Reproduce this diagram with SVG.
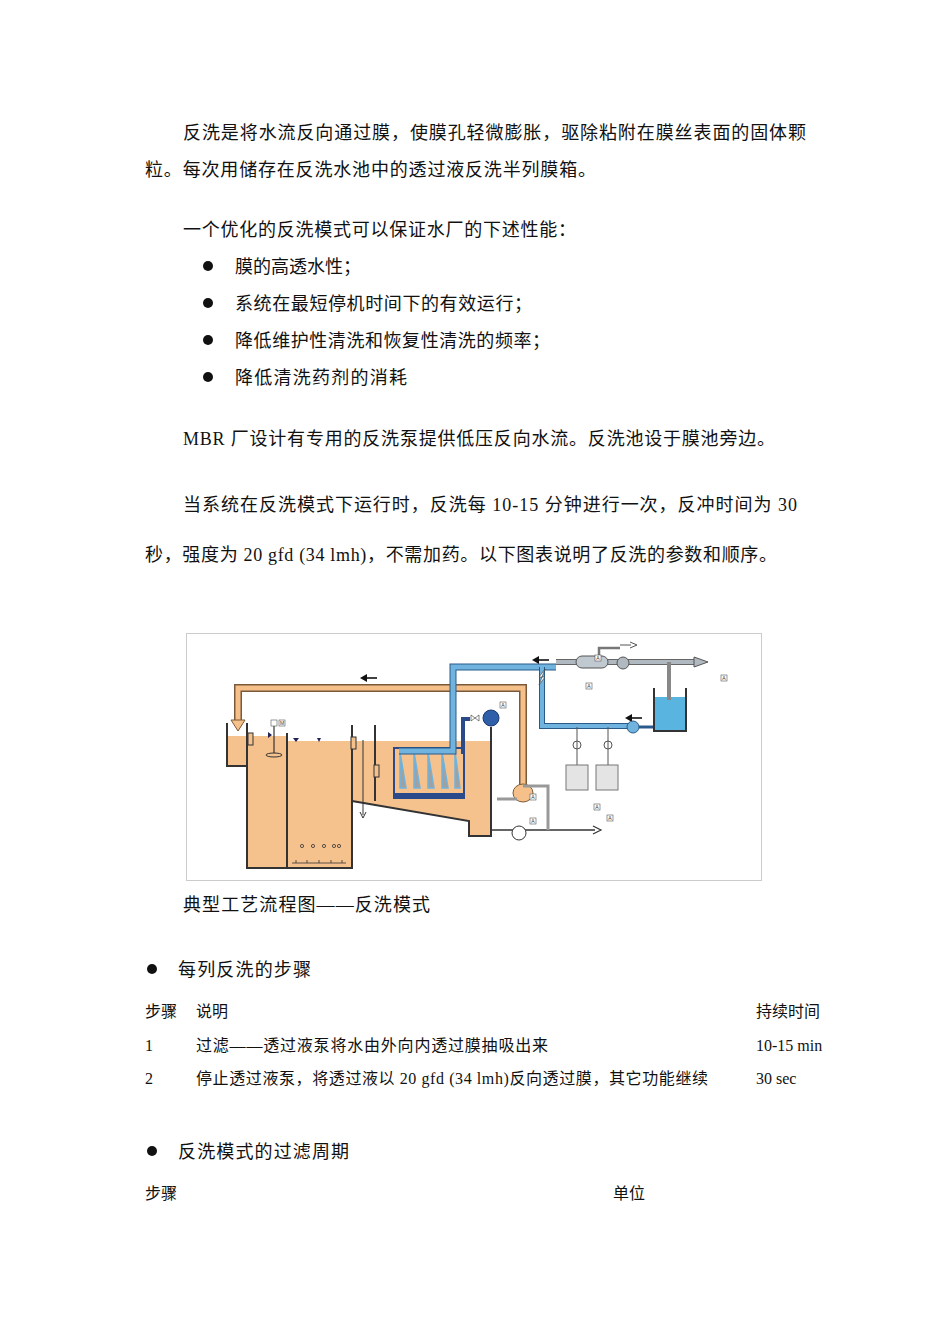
<svg xmlns="http://www.w3.org/2000/svg" width="950" height="1344" viewBox="0 0 950 1344">
<style>
.t{font-family:"Liberation Serif","Noto Sans CJK SC",serif;font-size:18px;fill:#111}
.s{font-family:"Liberation Serif","Noto Sans CJK SC",serif;font-size:16px;fill:#111}
.o{fill:none;stroke:#333;stroke-width:2}
.lbl{font-family:"Liberation Sans",sans-serif;font-size:5px;fill:#333;text-anchor:middle}
.bx{fill:#fff;stroke:#555;stroke-width:0.6}
.ar{fill:#111}
</style>
<rect width="950" height="1344" fill="#fff"/>
<g id="text">
<text class="t" x="183" y="139" textLength="623" lengthAdjust="spacing">反洗是将水流反向通过膜，使膜孔轻微膨胀，驱除粘附在膜丝表面的固体颗</text>
<text class="t" x="145" y="176" textLength="451" lengthAdjust="spacing">粒。每次用储存在反洗水池中的透过液反洗半列膜箱。</text>
<text class="t" x="183" y="236" textLength="393" lengthAdjust="spacing">一个优化的反洗模式可以保证水厂的下述性能：</text>
<circle cx="208" cy="266" r="5" fill="#111"/><text class="t" x="235" y="273">膜的高透水性；</text>
<circle cx="208" cy="303" r="5" fill="#111"/><text class="t" x="235" y="310" textLength="297" lengthAdjust="spacing">系统在最短停机时间下的有效运行；</text>
<circle cx="208" cy="340" r="5" fill="#111"/><text class="t" x="235" y="347" textLength="315" lengthAdjust="spacing">降低维护性清洗和恢复性清洗的频率；</text>
<circle cx="208" cy="377" r="5" fill="#111"/><text class="t" x="235" y="384" textLength="172" lengthAdjust="spacing">降低清洗药剂的消耗</text>
<text class="t" x="183" y="445" textLength="592" lengthAdjust="spacing">MBR 厂设计有专用的反洗泵提供低压反向水流。反洗池设于膜池旁边。</text>
<text class="t" x="183" y="511" textLength="614" lengthAdjust="spacing">当系统在反洗模式下运行时，反洗每 10-15 分钟进行一次，反冲时间为 30</text>
<text class="t" x="145" y="561" textLength="632" lengthAdjust="spacing">秒，强度为 20 gfd (34 lmh)，不需加药。以下图表说明了反洗的参数和顺序。</text>
<text class="t" x="183" y="911" textLength="247" lengthAdjust="spacing">典型工艺流程图——反洗模式</text>
<circle cx="152" cy="969" r="5" fill="#111"/><text class="t" x="178" y="976" textLength="133" lengthAdjust="spacing">每列反洗的步骤</text>
<text class="s" x="145" y="1017">步骤</text><text class="s" x="196" y="1017">说明</text><text class="s" x="756" y="1017">持续时间</text>
<text class="s" x="145" y="1051">1</text><text class="s" x="196" y="1051" textLength="352" lengthAdjust="spacing">过滤——透过液泵将水由外向内透过膜抽吸出来</text><text class="s" x="756" y="1051">10-15 min</text>
<text class="s" x="145" y="1084">2</text><text class="s" x="196" y="1084" textLength="512" lengthAdjust="spacing">停止透过液泵，将透过液以 20 gfd (34 lmh)反向透过膜，其它功能继续</text><text class="s" x="756" y="1084">30 sec</text>
<circle cx="152" cy="1151" r="5" fill="#111"/><text class="t" x="178" y="1158" textLength="171" lengthAdjust="spacing">反洗模式的过滤周期</text>
<text class="s" x="145" y="1199">步骤</text><text class="s" x="613" y="1199">单位</text>
</g>
<g id="figure">
<rect x="186.5" y="633.5" width="575" height="247" fill="#fff" stroke="#ccc"/>
<path d="M227,736 H287 V741 H491 V836 H469 V821 L352,801 V868 H247 V766 H227 Z" fill="#f5c28e"/>
<path class="o" d="M227,723 V766 H247 M247,723 V868 H352 V725 M287,733 V868 M352,801 L469,821 V836 H491 V727 M375,725 V801"/>
<path d="M523,786 V688 H238 V722" fill="none" stroke="#7a5a3a" stroke-width="8"/>
<path d="M523,786 V688 H238 V722" fill="none" stroke="#f5c08a" stroke-width="5"/>
<path d="M231,720 H245 L238,731 Z" fill="#f5c08a" stroke="#7a5a3a"/>
<path d="M366,678 H377" stroke="#111" stroke-width="1.6"/><path class="ar" d="M360,678 L367,674 V682 Z"/>
<ellipse cx="523" cy="793" rx="10" ry="9" fill="#f5c08a" stroke="#7a5a3a"/>
<line x1="274" y1="723" x2="274" y2="755" stroke="#333" stroke-width="1.2"/>
<rect x="271" y="720" width="6" height="6" class="bx"/>
<ellipse cx="274" cy="755" rx="8" ry="2" fill="#f5c28e" stroke="#333"/>
<rect x="248" y="733" width="5" height="12" fill="#f5c28e" stroke="#333"/>
<rect x="351" y="737" width="5" height="12" fill="#f5c28e" stroke="#333"/>
<rect x="374" y="765" width="5" height="12" fill="#f5c28e" stroke="#333"/>
<line x1="363" y1="740" x2="363" y2="815" stroke="#333"/><path d="M360,812 L363,818 L366,812" fill="none" stroke="#333"/>
<path d="M268,732 l4,3 -4,3 z M293,738 l3,4 3,-4 z M317,738 l2,4 2,-4 z" fill="#225"/>
<g fill="none" stroke="#333" stroke-width="0.8">
<circle cx="302" cy="846" r="1.6"/><circle cx="313" cy="846" r="1.6"/><circle cx="324" cy="846" r="1.6"/><circle cx="334" cy="846" r="1.6"/><circle cx="339" cy="846" r="1.6"/>
<path d="M292,863 H346 M296,860 v3 M307,860 v3 M319,860 v3 M331,860 v3 M342,860 v3"/>
</g>
<rect x="394" y="748" width="70" height="50" fill="#f5c28e" stroke="#2a4a8a" stroke-width="2"/>
<g fill="#a0a0a0" stroke="#6fb3de" stroke-width="1.5">
<path d="M400,752 v36 h6 z M414,752 v36 h6 z M428,752 v36 h6 z M442,752 v36 h6 z M455,752 v36 h5 z"/>
</g>
<rect x="394" y="793" width="70" height="5" fill="#2a4a8a"/>
<path d="M463,754 V719 H470" fill="none" stroke="#2a4a8a" stroke-width="4"/>
<circle cx="491" cy="718" r="8" fill="#2f5fa8" stroke="#1a3a70"/>
<path d="M471,715 l8,6 v-6 l-8,6 z" fill="#fff" stroke="#333" stroke-width="0.6"/>
<path d="M399,751 H453 V667 H556" fill="none" stroke="#2a5a8a" stroke-width="7"/>
<path d="M399,751 H453 V667 H556" fill="none" stroke="#6fb3de" stroke-width="5"/>
<path d="M542,667 V726 H633" fill="none" stroke="#2a5a8a" stroke-width="6"/>
<path d="M542,667 V726 H633" fill="none" stroke="#6fb3de" stroke-width="4"/>
<path d="M556,662 H695" stroke="#666" stroke-width="6"/>
<path d="M556,662 H695" stroke="#b0b8c0" stroke-width="4"/>
<path d="M694,657 L708,662 L694,667 Z" fill="#b0b8c0" stroke="#555"/>
<rect x="576" y="656" width="32" height="12" rx="6" fill="#c0c8d0" stroke="#555"/>
<circle cx="623" cy="663" r="6" fill="#b0b8c0" stroke="#555"/>
<path d="M599,656 V648 H620" fill="none" stroke="#777" stroke-width="2.5"/>
<path d="M620,645 H631" stroke="#555" stroke-width="1"/><path d="M630,642 L637,645 L630,648" fill="none" stroke="#555"/>
<path d="M538,660 H549" stroke="#111" stroke-width="1.6"/><path class="ar" d="M532,660 L539,656 V664 Z"/>
<path d="M631,718 H642" stroke="#111" stroke-width="1.6"/><path class="ar" d="M625,718 L632,714 V722 Z"/>
<path d="M545,669 l-6,8 h6 l-6,8 z" fill="#fff" stroke="#333" stroke-width="0.6"/>
<circle cx="633" cy="727" r="6" fill="#6fb3de" stroke="#2a5a8a"/>
<path d="M639,727 H654" stroke="#2a5a8a" stroke-width="3"/>
<rect x="654" y="697" width="32" height="34" fill="#5ab4e0"/>
<path class="o" d="M654,688 V731 H686 V688" stroke-width="1.5"/>
<path d="M669,662 V700" stroke="#888" stroke-width="4"/>
<g stroke="#555" fill="none">
<path d="M577,727 V785 M608,727 V785"/>
<circle cx="577" cy="745" r="4"/><circle cx="608" cy="745" r="4"/>
</g>
<rect x="566" y="765" width="22" height="25" fill="#e4e4e4" stroke="#777"/>
<rect x="596" y="765" width="22" height="25" fill="#e4e4e4" stroke="#777"/>
<path d="M491,830 H595" stroke="#333" stroke-width="1.5"/><path d="M593,826 L601,830 L593,834" fill="none" stroke="#333" stroke-width="1.2"/>
<path d="M523,786 H548 V830" fill="none" stroke="#999" stroke-width="3"/>
<circle cx="519" cy="833" r="7" fill="#fff" stroke="#333"/>
<path d="M497,799 H517" stroke="#999" stroke-width="3"/>
<g>
<rect x="595" y="655" width="6" height="6" class="bx"/><text class="lbl" x="598" y="660">A</text>
<rect x="586" y="683" width="6" height="6" class="bx"/><text class="lbl" x="589" y="688">A</text>
<rect x="500" y="702" width="6" height="6" class="bx"/><text class="lbl" x="503" y="707">A</text>
<rect x="279" y="720" width="6" height="6" class="bx"/><text class="lbl" x="282" y="725">M</text>
<rect x="530" y="794" width="6" height="6" class="bx"/><text class="lbl" x="533" y="799">A</text>
<rect x="594" y="804" width="6" height="6" class="bx"/><text class="lbl" x="597" y="809">A</text>
<rect x="530" y="818" width="6" height="6" class="bx"/><text class="lbl" x="533" y="823">A</text>
<rect x="607" y="815" width="6" height="6" class="bx"/><text class="lbl" x="610" y="820">A</text>
<rect x="721" y="675" width="6" height="6" class="bx"/><text class="lbl" x="724" y="680">A</text>
</g>
</g>
</svg>
